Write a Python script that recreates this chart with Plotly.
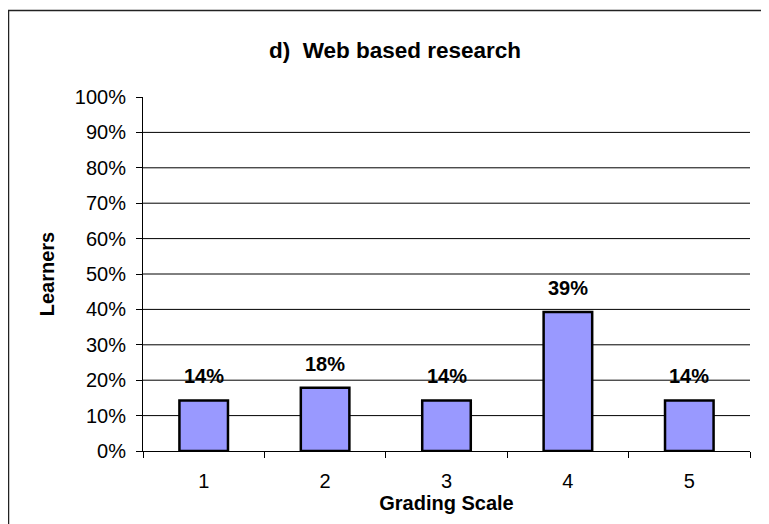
import plotly.graph_objects as go

categories = ["1", "2", "3", "4", "5"]
values = [4/28, 5/28, 4/28, 11/28, 4/28]
labels = ["14%", "18%", "14%", "39%", "14%"]
grid_levels = [0.1, 0.2, 0.3, 0.4, 0.5, 0.6, 0.7, 0.8, 0.9]
y_ticks = [0, 0.1, 0.2, 0.3, 0.4, 0.5, 0.6, 0.7, 0.8, 0.9, 1.0]

FONT = "Liberation Sans, Arial, sans-serif"

W, H = 761, 516
L, R, T, B = 135, 19, 89, 73
PW, PH = W - L - R, H - T - B

fig = go.Figure()
fig.add_trace(go.Bar(
    x=categories, y=values, width=0.4,
    marker=dict(color="#9999FF", line=dict(color="black", width=2.5)),
    hoverinfo="skip",
))

for i, (v, t) in enumerate(zip(values, labels)):
    fig.add_annotation(x=i, y=v, text="<b>%s</b>" % t, showarrow=False,
                       yanchor="middle", yshift=24,
                       font=dict(family=FONT, size=20, color="black"))

for g in grid_levels:
    fig.add_shape(type="line", xref="paper", x0=0, x1=1, yref="y", y0=g, y1=g,
                  line=dict(color="black", width=1), layer="below")

# outer chart border (extends past the right and bottom edges)
fig.add_shape(type="rect", xref="paper", yref="paper",
              x0=(0.5 - L) / PW, x1=(W + 30 - L) / PW,
              y0=-(B + 30) / PH, y1=(PH + T - 2.5) / PH,
              line=dict(color="#222", width=1.5))

fig.update_layout(
    width=W, height=H,
    margin=dict(l=L, r=R, t=T, b=B),
    paper_bgcolor="white", plot_bgcolor="white",
    showlegend=False,
    font=dict(family=FONT, color="black", size=20),
    title=dict(text="<b>d)  Web based research</b>", x=387 / W, xref="container",
               xanchor="center", y=1 - 42 / H, yanchor="middle",
               font=dict(family=FONT, size=22.5, color="black")),
    xaxis=dict(type="category", tickson="boundaries", ticks="outside", ticklen=6,
               tickcolor="black", showline=True, linecolor="black", linewidth=1,
               showgrid=False, tickfont=dict(size=20), ticklabelstandoff=12,
               title=dict(text="<b>Grading Scale</b>", standoff=0,
                          font=dict(size=20))),
    yaxis=dict(range=[0, 1], tickvals=y_ticks, tickformat=".0%", ticks="outside",
               ticklen=6, tickcolor="black", showline=True, linecolor="black",
               linewidth=1, showgrid=False, zeroline=False,
               tickfont=dict(size=20), ticklabelstandoff=6,
               title=dict(text="<b>Learners</b>", standoff=14,
                          font=dict(size=20))),
)

fig.write_html("out.html")
